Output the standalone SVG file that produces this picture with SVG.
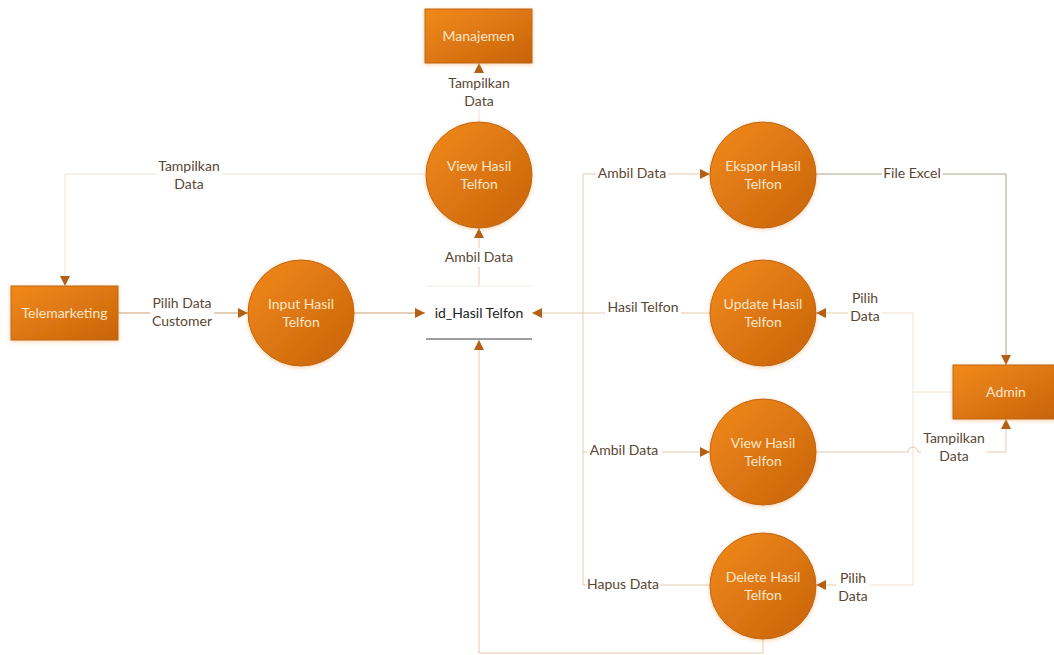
<svg xmlns="http://www.w3.org/2000/svg" width="1054" height="655" viewBox="0 0 1054 655">
  <defs>
    <linearGradient id="orange" x1="0" y1="0" x2="1" y2="1">
      <stop offset="0" stop-color="#f28a1a"/>
      <stop offset="1" stop-color="#c7630b"/>
    </linearGradient>
    <filter id="glow" x="-20%" y="-20%" width="140%" height="140%">
      <feGaussianBlur in="SourceAlpha" stdDeviation="2"/>
      <feOffset dx="0" dy="1" result="b"/>
      <feFlood flood-color="#f0a860" flood-opacity="0.55"/>
      <feComposite in2="b" operator="in"/>
      <feMerge><feMergeNode/><feMergeNode in="SourceGraphic"/></feMerge>
    </filter>
    <marker id="arr" viewBox="0 0 10 10" refX="10" refY="5" markerWidth="10" markerHeight="10" markerUnits="userSpaceOnUse" orient="auto">
      <path d="M0,0 L10,5 L0,10 Z" fill="#b35f14"/>
    </marker>
  </defs>
  <style>
    .shape { fill: url(#orange); stroke: #c06412; stroke-width: 1; filter: url(#glow); }
    .ntext { font-family: Lato, "Liberation Sans", sans-serif; font-size: 14px; fill: #fde6c6; text-anchor: middle; }
    .lbl { font-family: Lato, "Liberation Sans", sans-serif; font-size: 14px; fill: #5a4632; text-anchor: middle; }
    .store { font-family: Lato, "Liberation Sans", sans-serif; font-size: 14px; fill: #222222; text-anchor: middle; }
    .c { fill: none; stroke: #e4cbab; stroke-width: 1; }
    .light { stroke: #f2e2cf; }
    .mid { stroke: #c89c70; }
    .gray { stroke: #b3a18c; }
    .arrow { marker-end: url(#arr); }
  </style>

  <rect width="1054" height="655" fill="#ffffff"/>

  <!-- connectors -->
  <g id="connectors">
    <!-- View Hasil Telfon (top) to Manajemen -->
    <path class="c light" d="M479,122 V110"/>
    <path class="c light arrow" d="M479,73 V63"/>
    <!-- View Hasil Telfon (top) to Telemarketing -->
    <path class="c light" d="M425,174 H222"/>
    <path class="c light arrow" d="M156,174 H65 V286"/>
    <!-- Telemarketing to Input -->
    <path class="c mid" d="M118,313 H150"/>
    <path class="c mid arrow" d="M214,313 H248"/>
    <!-- Input to data store -->
    <path class="c mid arrow" d="M354,313 H425"/>
    <!-- data store to View Hasil Telfon (top) -->
    <path class="c" d="M479,286 V267"/>
    <path class="c arrow" d="M479,248 V228"/>
    <!-- Delete back to data store -->
    <path class="c arrow" d="M763,639 V653 H479 V340"/>
    <!-- shared data store line on the right -->
    <path class="c" d="M596,174 H583 V585 H587"/>
    <path class="c arrow" d="M668,174 H710"/>
    <path class="c" d="M583,452 H587"/>
    <path class="c arrow" d="M662,452 H710"/>
    <path class="c" d="M660,585 H710"/>
    <!-- Update to data store -->
    <path class="c" d="M710,313 H681"/>
    <path class="c arrow" d="M605,313 H532"/>
    <!-- Ekspor to Admin -->
    <path class="c gray" d="M816,174 H882"/>
    <path class="c gray arrow" d="M943,174 H1006 V365"/>
    <!-- Admin to Update and Delete -->
    <path class="c light" d="M953,392 H913"/>
    <path class="c light" d="M913,313 V585"/>
    <path class="c light" d="M913,313 H882"/>
    <path class="c arrow" d="M848,313 H816"/>
    <path class="c light" d="M913,585 H870"/>
    <path class="c arrow" d="M836,585 H816"/>
    <!-- View Hasil Telfon (right) to Admin -->
    <path class="c" d="M816,452 H908 A5,5 0 0 1 918,452 H921"/>
    <path class="c arrow" d="M987,452 H1006 V419"/>
  </g>

  <!-- connector labels -->
  <g id="labels">
    <text class="lbl" x="479" y="88">Tampilkan</text>
    <text class="lbl" x="479" y="106">Data</text>
    <text class="lbl" x="189" y="171">Tampilkan</text>
    <text class="lbl" x="189" y="189">Data</text>
    <text class="lbl" x="182" y="308">Pilih Data</text>
    <text class="lbl" x="182" y="326">Customer</text>
    <text class="lbl" x="479" y="262">Ambil Data</text>
    <text class="lbl" x="632" y="178">Ambil Data</text>
    <text class="lbl" x="643" y="312">Hasil Telfon</text>
    <text class="lbl" x="624" y="455">Ambil Data</text>
    <text class="lbl" x="623" y="589">Hapus Data</text>
    <text class="lbl" x="912" y="178">File Excel</text>
    <text class="lbl" x="865" y="303">Pilih</text>
    <text class="lbl" x="865" y="321">Data</text>
    <text class="lbl" x="954" y="443">Tampilkan</text>
    <text class="lbl" x="954" y="461">Data</text>
    <text class="lbl" x="853" y="583">Pilih</text>
    <text class="lbl" x="853" y="601">Data</text>
  </g>

  <!-- external entities -->
  <g id="manajemen">
    <rect class="shape" x="425" y="9" width="107" height="54"/>
    <text class="ntext" x="478.5" y="41">Manajemen</text>
  </g>
  <g id="telemarketing">
    <rect class="shape" x="11" y="286" width="107" height="54"/>
    <text class="ntext" x="64.5" y="318">Telemarketing</text>
  </g>
  <g id="admin">
    <rect class="shape" x="953" y="365" width="104" height="54"/>
    <text class="ntext" x="1006" y="397">Admin</text>
  </g>

  <!-- processes -->
  <g id="view-hasil-telfon-top">
    <circle class="shape" cx="479" cy="175" r="53"/>
    <text class="ntext" x="479" y="171">View Hasil</text>
    <text class="ntext" x="479" y="189">Telfon</text>
  </g>
  <g id="input-hasil-telfon">
    <circle class="shape" cx="301" cy="313" r="53"/>
    <text class="ntext" x="301" y="309">Input Hasil</text>
    <text class="ntext" x="301" y="327">Telfon</text>
  </g>
  <g id="ekspor-hasil-telfon">
    <circle class="shape" cx="763" cy="175" r="53"/>
    <text class="ntext" x="763" y="171">Ekspor Hasil</text>
    <text class="ntext" x="763" y="189">Telfon</text>
  </g>
  <g id="update-hasil-telfon">
    <circle class="shape" cx="763" cy="313" r="53"/>
    <text class="ntext" x="763" y="309">Update Hasil</text>
    <text class="ntext" x="763" y="327">Telfon</text>
  </g>
  <g id="view-hasil-telfon-right">
    <circle class="shape" cx="763" cy="452" r="53"/>
    <text class="ntext" x="763" y="448">View Hasil</text>
    <text class="ntext" x="763" y="466">Telfon</text>
  </g>
  <g id="delete-hasil-telfon">
    <circle class="shape" cx="763" cy="586" r="53"/>
    <text class="ntext" x="763" y="582">Delete Hasil</text>
    <text class="ntext" x="763" y="600">Telfon</text>
  </g>

  <!-- data store -->
  <g id="id-hasil-telfon">
    <line x1="426" y1="286" x2="532" y2="286" stroke="#f1ece6" stroke-width="1"/>
    <line x1="426" y1="339" x2="532" y2="339" stroke="#3c3c3c" stroke-width="1"/>
    <text class="store" x="479" y="318">id_Hasil Telfon</text>
  </g>
</svg>
